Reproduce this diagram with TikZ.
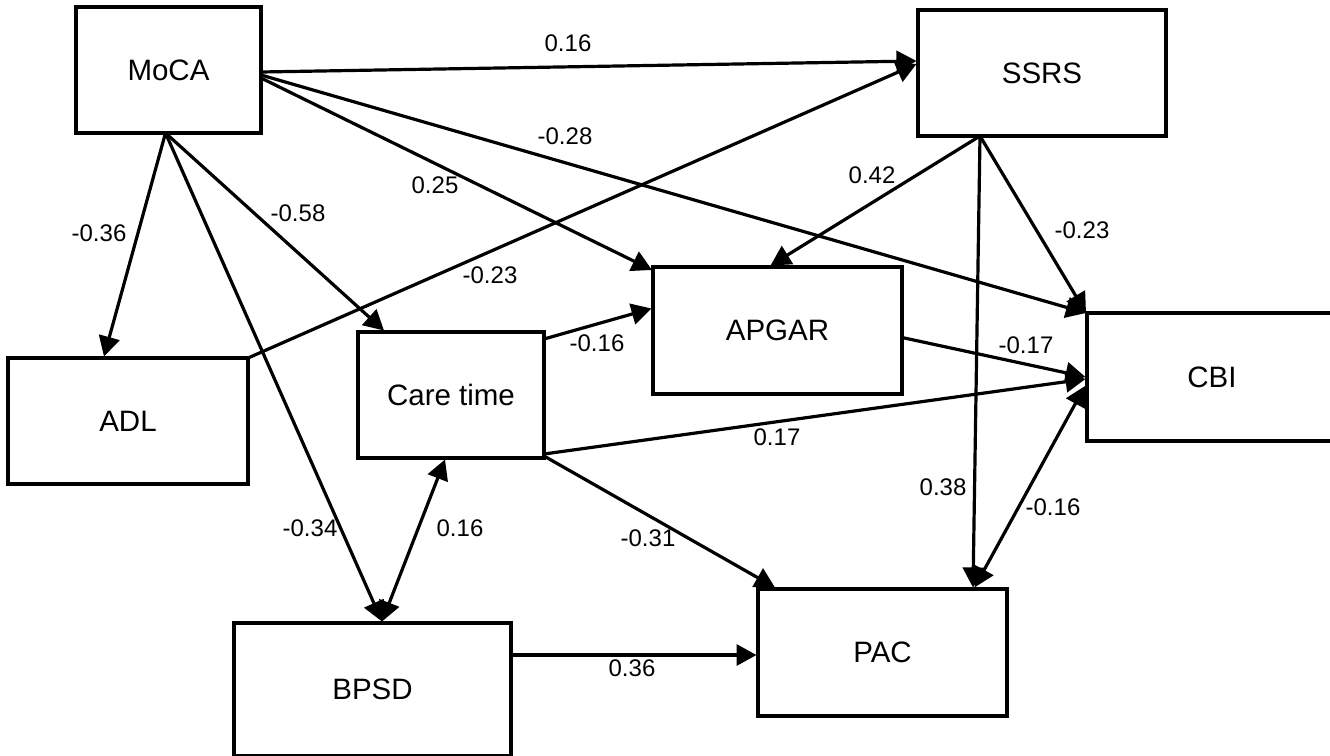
\documentclass[tikz,border=0pt]{standalone}
\usepackage{fontspec}
\setmainfont{Liberation Sans}
\usetikzlibrary{arrows.meta,calc}
\begin{document}
\begin{tikzpicture}[x=1pt,y=-1pt,
  box/.style={draw,line width=3.5pt,inner sep=0pt,outer sep=0pt,font=\fontsize{29.5}{34}\selectfont},
  lbl/.style={font=\fontsize{24}{28}\selectfont,inner sep=0pt},
  conn/.style={line width=3.2pt,-{Triangle[length=20pt,width=21pt]}},
  bconn/.style={line width=3.2pt,{Triangle[length=20pt,width=21pt]}-{Triangle[length=20pt,width=21pt]}}]
\useasboundingbox (0,0) rectangle (1330,755);

\node[box,minimum width=185pt,minimum height=126pt] (moca) at (168.5,70) {MoCA};
\node[box,minimum width=248pt,minimum height=126pt] (ssrs) at (1042,73) {SSRS};
\node[box,minimum width=240pt,minimum height=126pt] (adl) at (128,421) {ADL};
\node[box,minimum width=186pt,minimum height=126pt] (care) at (451,395) {Care time};
\node[box,minimum width=249pt,minimum height=127pt] (apgar) at (777.5,330.5) {APGAR};
\node[box,minimum width=250pt,minimum height=128pt] (cbi) at (1212,377) {CBI};
\node[box,minimum width=277pt,minimum height=133pt] (bpsd) at (372.5,689.5) {BPSD};
\node[box,minimum width=249pt,minimum height=127pt] (pac) at (882.5,652.5) {PAC};

\draw[conn] ($(moca.east)+(0,2)$) -- ($(ssrs.west)+(-1.5,-12)$);
\draw[conn] (adl.north east) -- ($(ssrs.west)+(-1.5,-9)$);
\draw[conn] ($(moca.east)+(0,5)$) -- ($(cbi.north west)+(-1,0)$);
\draw[conn] ($(moca.east)+(0,8)$) -- ($(apgar.north west)+(-1,3)$);
\draw[conn] ($(moca.south)+(-3,0)$) -- ($(adl.north)+(-24,-1.5)$);
\draw[conn] ($(moca.south)+(-3,0)$) -- ($(care.north)+(-67,-1.5)$);
\draw[conn] ($(moca.south)+(-3,0)$) -- ($(bpsd.north)+(9.5,-1.5)$);
\draw[bconn] ($(bpsd.north)+(9.5,-1.5)$) -- ($(care.south)+(-6,1.5)$);
\draw[conn] ($(care.east)+(0,-56)$) -- ($(apgar.west)+(-1.5,-22)$);
\draw[conn] ($(ssrs.south)+(-62,0)$) -- ($(apgar.north)+(-7,-1.5)$);
\draw[conn] ($(ssrs.south)+(-62,0)$) -- ($(pac.north)+(90.5,-1.5)$);
\draw[conn] ($(ssrs.south)+(-62,0)$) -- ($(cbi.north west)+(-1,0)$);
\draw[conn] ($(apgar.east)+(0,7)$) -- ($(cbi.west)+(-1.5,0)$);
\draw[conn] ($(care.south east)+(0,-4)$) -- ($(cbi.west)+(-1.5,2)$);
\draw[bconn] ($(pac.north)+(92,-1.5)$) -- ($(cbi.west)+(-2,9)$);
\draw[conn] ($(care.south east)+(0,-2)$) -- ($(pac.north west)+(17,-1.5)$);
\draw[conn] ($(bpsd.east)+(0,-34.5)$) -- ($(pac.west)+(-1.5,2.5)$);

\node[lbl] (l1) at (568,43) {0.16};
\node[lbl] (l2) at (565,136) {-0.28};
\node[lbl] (l3) at (435,185) {0.25};
\node[lbl] (l4) at (298,213) {-0.58};
\node[lbl] (l5) at (99,233) {-0.36};
\node[lbl] (l6) at (490,275) {-0.23};
\node[lbl] (l7) at (872,175) {0.42};
\node[lbl] (l8) at (1082,230) {-0.23};
\node[lbl] (l9) at (597,343) {-0.16};
\node[lbl] (l10) at (1026,345) {-0.17};
\node[lbl] (l11) at (777,437) {0.17};
\node[lbl] (l12) at (943,487) {0.38};
\node[lbl] (l13) at (1053,507) {-0.16};
\node[lbl] (l14) at (648,538) {-0.31};
\node[lbl] (l15) at (310,528) {-0.34};
\node[lbl] (l16) at (460,528) {0.16};
\node[lbl] (l17) at (632,668) {0.36};
\end{tikzpicture}
\end{document}
